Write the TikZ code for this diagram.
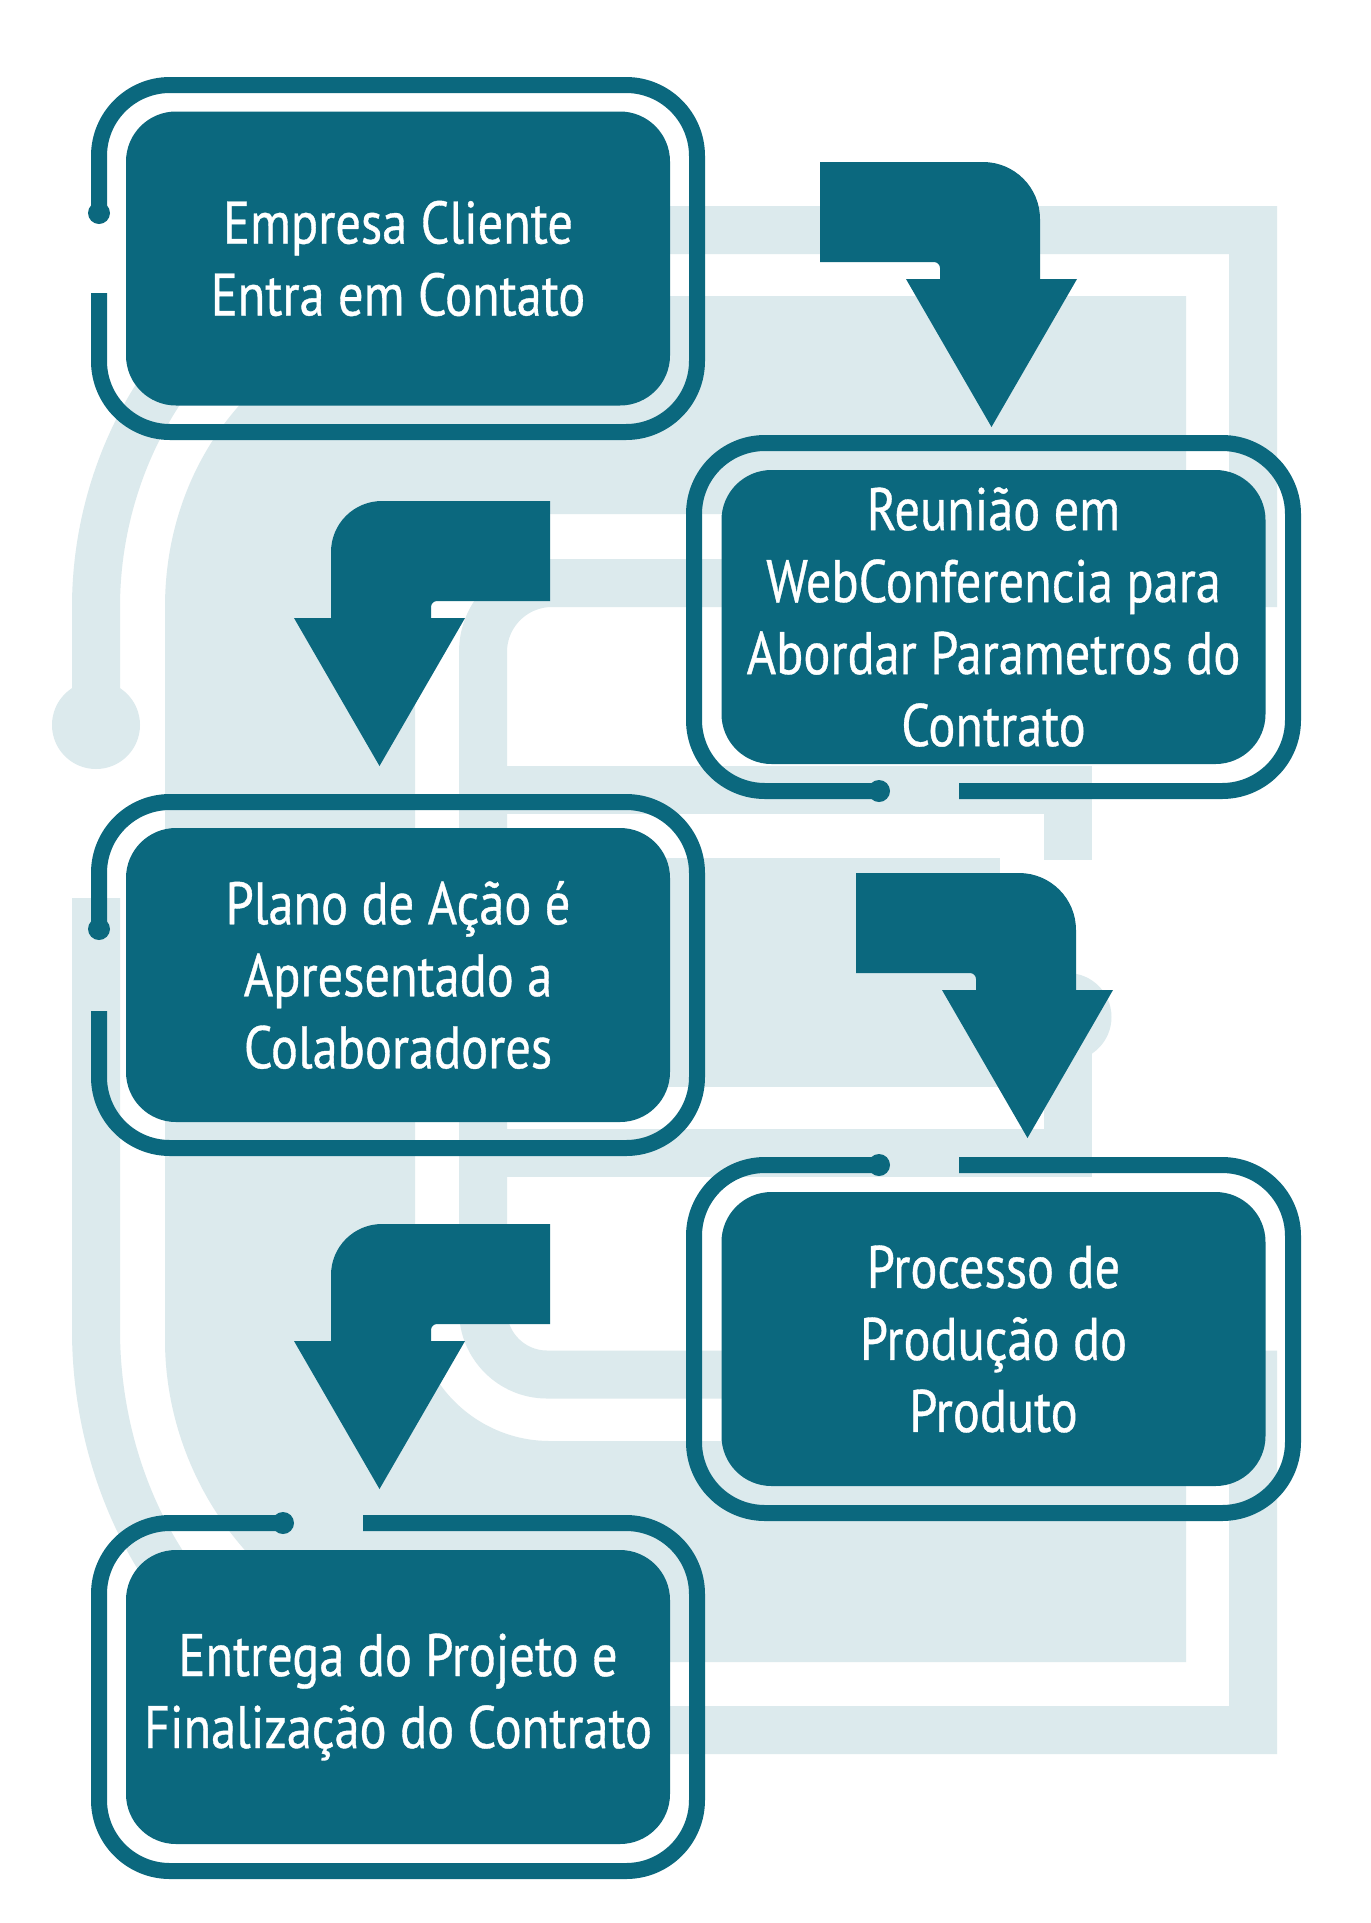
\documentclass[tikz,border=0pt]{standalone}
\usepackage{fontspec}
\setmainfont{PT Sans}[FakeStretch=0.84,FakeBold=0.6]
\usepackage{xcolor}
\definecolor{petrol}{HTML}{0B687E}
\definecolor{haze}{HTML}{DCEAED}
\tikzset{
  stepbox/.style={fill=petrol, rounded corners=25pt, minimum width=272pt, minimum height=147pt,
    inner sep=0pt, text=white, align=center, font=\fontsize{30}{36}\selectfont},
  frame/.style={draw=petrol, line width=8pt, rounded corners=35.5pt},
  lane/.style={draw=haze, line width=24pt},
}

\begin{document}
\begin{tikzpicture}[x=0.5pt,y=-0.5pt]
\useasboundingbox (0,0) rectangle (1371,1923);
\fill[white] (0,0) rectangle (1371,1923);
% background lanes
\fill[haze] (1186,296) -- (510,296) .. controls (290,296) and (165,440) .. (165,607) -- (165,1340)
  .. controls (165,1500) and (290,1662) .. (510,1662) -- (1186,1662) -- (1186,1441) -- (550,1441)
  .. controls (475.4,1441) and (415,1380.6) .. (415,1306) -- (415,649)
  .. controls (415,574.4) and (475.4,514) .. (550,514) -- (1186,514) -- cycle;
\draw[lane] (96,725) -- (96,607) .. controls (96,420) and (230,230) .. (470,230) -- (1253,230)
  -- (1253,583) -- (552,583) .. controls (513.9,583) and (483,613.9) .. (483,652) -- (483,1310.5)
  .. controls (483,1345.8) and (511.7,1374.5) .. (547,1374.5) -- (1253,1374.5) -- (1253,1730)
  -- (470,1730) .. controls (230,1730) and (96,1530) .. (96,1330) -- (96,898);
\fill[haze] (96,725) circle (22pt);
% middle loop
\fill[haze] (552,858) rectangle (1000,1087);
\draw[lane] (483,789.5) -- (1067.5,789.5) -- (1067.5,860);
\draw[lane] (1067.5,1017) -- (1067.5,1153) -- (483,1153);
\fill[haze] (1067.5,1017) circle (22pt);

% steps
\node[stepbox] (empresa) at (398,258.5) {Empresa Cliente\\Entra em Contato};
\draw[frame] (99,213) -- (99,85) -- (697,85) -- (697,432) -- (99,432) -- (99,293);
\fill[petrol] (99,213) circle (5.5pt);

\node[stepbox] (reuniao) at (993.5,617) {Reunião em\\WebConferencia para\\Abordar Parametros do\\Contrato};
\draw[frame] (879,791) -- (694,791) -- (694,443) -- (1293,443) -- (1293,791) -- (959,791);
\fill[petrol] (879,791) circle (5.5pt);

\node[stepbox] (plano) at (398,975) {Plano de Ação é\\Apresentado a\\Colaboradores};
\draw[frame] (99,929) -- (99,802) -- (697,802) -- (697,1148) -- (99,1148) -- (99,1011);
\fill[petrol] (99,929) circle (5.5pt);

\node[stepbox] (processo) at (993.5,1339) {Processo de\\Produção do\\Produto};
\draw[frame] (879,1165) -- (694,1165) -- (694,1513) -- (1293,1513) -- (1293,1165) -- (959,1165);
\fill[petrol] (879,1165) circle (5.5pt);

\node[stepbox] (entrega) at (398,1697) {Entrega do Projeto e\\Finalização do Contrato};
\draw[frame] (283,1523) -- (99,1523) -- (99,1871) -- (697,1871) -- (697,1523) -- (363,1523);
\fill[petrol] (283,1523) circle (5.5pt);

% bent arrows
\foreach \dx/\dy in {0/0,36/711}
  \fill[petrol,shift={(\dx,\dy)}] (820,162) -- (983,162) .. controls (1014.5,162) and (1040,187.5) .. (1040,219)
    -- (1040,279) -- (1077,279) -- (991.5,427) -- (906,279) -- (940,279) -- (940,268)
    .. controls (940,264.7) and (937.3,262) .. (934,262) -- (820,262) -- cycle;
\foreach \dy in {0,723}
  \fill[petrol,shift={(0,\dy)}] (550,501) -- (382,501) .. controls (353.8,501) and (331,523.8) .. (331,552)
    -- (331,618) -- (294,618) -- (379.5,766) -- (465,618) -- (431,618) -- (431,607)
    .. controls (431,603.7) and (433.7,601) .. (437,601) -- (550,601) -- cycle;
\end{tikzpicture}
\end{document}
